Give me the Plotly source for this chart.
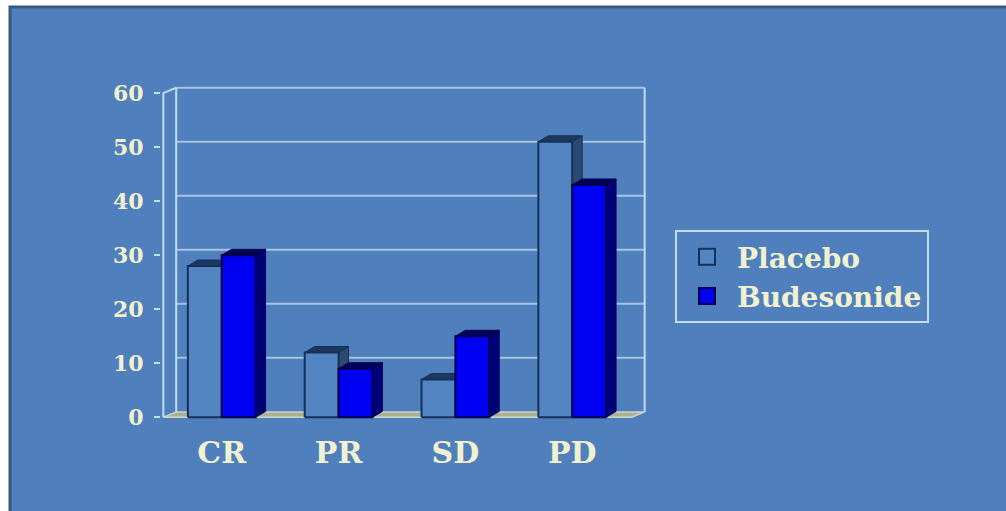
import plotly.graph_objects as go

# ---- data -------------------------------------------------------------
categories = ["CR", "PR", "SD", "PD"]
placebo = [28, 12, 7, 51]
budesonide = [30, 9, 15, 43]
y_ticks = [0, 10, 20, 30, 40, 50, 60]

# ---- pseudo-3D geometry (axis units) -----------------------------------
BAR_W = 0.29      # width of one column face
BAR_DX = 0.085    # depth shift of a column, x
BAR_DY = 1.1      # depth shift of a column, y
WALL_DX = 0.11    # depth shift of the back wall, x
WALL_DY = 1.0     # depth shift of the back wall, y
X_MIN, X_MAX = -0.52, 3.64
X_FRONT = -0.5                   # front-left corner of the floor
X_BACK_R = 3.62                  # right edge of the back wall
Y_MIN, Y_MAX = -0.5, 61.5

BG = "#4f7fbd"
TEXT = "#f1f1cf"
GRID = "#a6c3e3"
FONT = "DejaVu Serif"


def join(polys):
    xs, ys = [], []
    for p in polys:
        xs += [pt[0] for pt in p] + [None]
        ys += [pt[1] for pt in p] + [None]
    return xs, ys


def front(x0, x1, v):
    return [(x0, 0), (x1, 0), (x1, v), (x0, v), (x0, 0)]


def top(x0, x1, v):
    return [(x0, v), (x1, v), (x1 + BAR_DX, v + BAR_DY), (x0 + BAR_DX, v + BAR_DY), (x0, v)]


def side(x1, v):
    return [(x1, 0), (x1 + BAR_DX, BAR_DY), (x1 + BAR_DX, v + BAR_DY), (x1, v), (x1, 0)]


fig = go.Figure()

# ---- floor --------------------------------------------------------------
top_tick = y_ticks[-1]
floor = [(X_FRONT, 0), (X_BACK_R - WALL_DX, 0), (X_BACK_R, WALL_DY),
         (X_FRONT + WALL_DX, WALL_DY), (X_FRONT, 0)]
fx, fy = join([floor])
fig.add_trace(go.Scatter(x=fx, y=fy, mode="lines", fill="toself",
                         fillcolor="#aab093", line=dict(color="#c9d6c8", width=1.5),
                         hoverinfo="skip", showlegend=False))

# ---- back wall gridlines and wall edges ----------------------------------
gx, gy = [], []
for v in y_ticks[1:]:
    gx += [X_FRONT + WALL_DX, X_BACK_R, None]
    gy += [v + WALL_DY, v + WALL_DY, None]
fig.add_trace(go.Scatter(x=gx, y=gy, mode="lines", line=dict(color=GRID, width=2),
                         hoverinfo="skip", showlegend=False))

edges_x = [X_FRONT + WALL_DX, X_FRONT + WALL_DX, None,
           X_BACK_R, X_BACK_R, None,
           X_FRONT, X_FRONT, X_FRONT + WALL_DX, None]
edges_y = [WALL_DY, top_tick + WALL_DY, None,
           WALL_DY, top_tick + WALL_DY, None,
           0, top_tick, top_tick + WALL_DY, None]
fig.add_trace(go.Scatter(x=edges_x, y=edges_y, mode="lines",
                         line=dict(color="#c4dbe9", width=2),
                         hoverinfo="skip", showlegend=False))

# ---- columns --------------------------------------------------------------
series = [
    ("Placebo", placebo, -BAR_W, 0.0,
     dict(front="#5485c3", top="#1c385e", side="#2b4a6e", line="#15305a")),
    ("Budesonide", budesonide, 0.0, BAR_W,
     dict(front="#0000f2", top="#000058", side="#00007a", line="#00004e")),
]

for name, vals, off0, off1, col in series:
    sides, tops, fronts = [], [], []
    for i, v in enumerate(vals):
        x0, x1 = i + off0, i + off1
        sides.append(side(x1, v))
        tops.append(top(x0, x1, v))
        fronts.append(front(x0, x1, v))
    for polys, fillc in ((sides, col["side"]), (tops, col["top"])):
        px, py = join(polys)
        fig.add_trace(go.Scatter(x=px, y=py, mode="lines", fill="toself",
                                 fillcolor=fillc, line=dict(color=col["line"], width=1),
                                 hoverinfo="skip", showlegend=False))
    px, py = join(fronts)
    fig.add_trace(go.Scatter(x=px, y=py, mode="lines", fill="toself",
                             fillcolor=col["front"], line=dict(color=col["line"], width=2),
                             name=name, hoverinfo="skip", showlegend=False))
    # legend key
    fig.add_trace(go.Scatter(x=[None], y=[None], mode="markers", name=name,
                             marker=dict(symbol="square", size=16, color=col["front"],
                                         line=dict(color=col["line"], width=2)),
                             showlegend=True))

# ---- layout ---------------------------------------------------------------
L, R, T, B = 161, 359, 85, 91
W, H = 1006, 511
pw, ph = W - L - R, H - T - B


def px_to_paper(x, y):
    return (x - L) / pw, (H - B - y) / ph


bx0, by0 = px_to_paper(10, 515)
bx1, by1 = px_to_paper(1012, 7)

fig.update_layout(
    width=W, height=H,
    margin=dict(l=L, r=R, t=T, b=B),
    paper_bgcolor="white",
    plot_bgcolor="rgba(0,0,0,0)",
    font=dict(family=FONT, color=TEXT, weight="bold"),
    shapes=[dict(type="rect", xref="paper", yref="paper", layer="below",
                 x0=bx0, x1=bx1, y0=by0, y1=by1,
                 fillcolor=BG, line=dict(color="#3a5a80", width=3))],
    xaxis=dict(range=[X_MIN, X_MAX], showgrid=False, zeroline=False, showline=False,
               tickvals=list(range(len(categories))), ticktext=categories,
               tickfont=dict(size=30, family=FONT, color=TEXT, weight="bold"),
               ticks="", ticklabelstandoff=12),
    yaxis=dict(range=[Y_MIN, Y_MAX], showgrid=False, zeroline=False, showline=False,
               tickvals=y_ticks, ticks="outside", ticklen=6, tickwidth=2,
               tickcolor="#c4dbe9",
               tickfont=dict(size=22, family=FONT, color=TEXT, weight="bold"),
               ticklabelstandoff=6),
    legend=dict(x=px_to_paper(675, 0)[0], y=px_to_paper(0, 230)[1],
                xanchor="left", yanchor="top",
                bgcolor="rgba(0,0,0,0)", bordercolor="#c4dbe9", borderwidth=2,
                font=dict(size=28, family=FONT, color=TEXT, weight="bold"),
                itemwidth=50, tracegroupgap=0),
    showlegend=True,
)

fig.write_html("out.html")
